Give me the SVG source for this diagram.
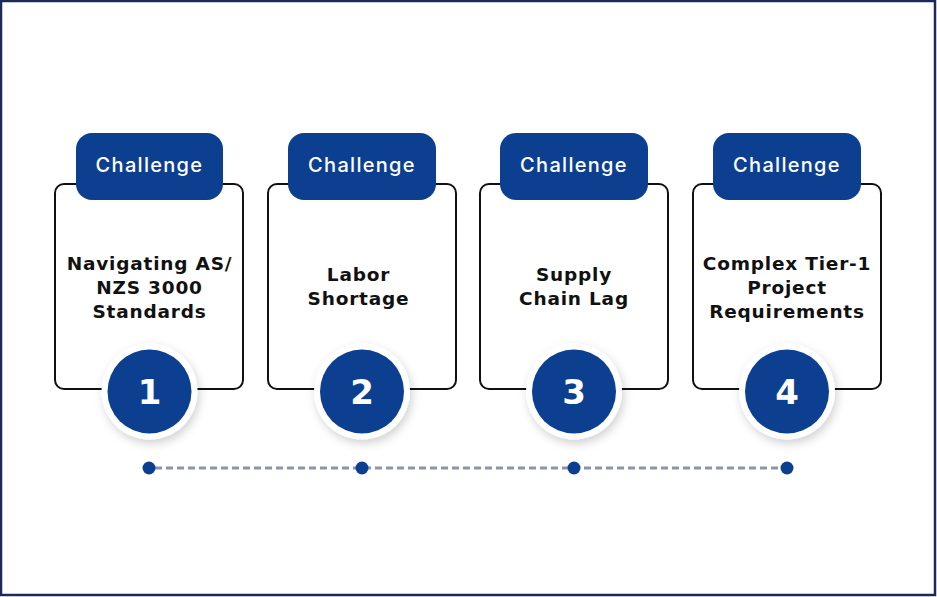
<svg xmlns="http://www.w3.org/2000/svg" width="937" height="597" viewBox="0 0 937 597">
<style>
.card{fill:#fff;stroke:#111;stroke-width:2}
.pill{fill:#0d3f91}
.ring{fill:#fff}
.num{fill:#0d3f91}
.ht{font-family:Inter,"Open Sans",sans-serif;font-size:20px;font-weight:500;fill:#fff;text-anchor:middle;letter-spacing:1.3px}
.bt{font-family:"DejaVu Sans",Inter,sans-serif;font-size:18.5px;font-weight:700;fill:#111;text-anchor:middle;letter-spacing:0.8px}
.nt{font-family:"DejaVu Sans",Inter,sans-serif;font-size:34px;font-weight:700;fill:#fff;text-anchor:middle}
.dot{fill:#0d3f91}
</style>
<defs>
<filter id="sh" x="-50%" y="-50%" width="200%" height="200%">
<feDropShadow dx="2" dy="4" stdDeviation="5" flood-color="#000" flood-opacity="0.18"/>
</filter>
</defs>
<rect x="1" y="1" width="934" height="594" fill="#fff" stroke="#1c2a5a" stroke-width="2.5"/>
<g id="connectors">
<line x1="155" y1="468" x2="781" y2="468" stroke="#8e92ab" stroke-width="3" stroke-dasharray="7 4"/>
<circle class="dot" cx="149" cy="468" r="6.5"/>
<circle class="dot" cx="362" cy="468" r="6.5"/>
<circle class="dot" cx="574" cy="468" r="6.5"/>
<circle class="dot" cx="787" cy="468" r="6.5"/>
</g>
<g id="node1">
<rect class="card" x="55" y="184" width="188" height="205" rx="9"/>
<rect class="pill" x="76" y="133" width="147" height="67" rx="16"/>
<text class="ht" x="149.5" y="172">Challenge</text>
<text class="bt" x="149.5" y="270">Navigating AS/</text>
<text class="bt" x="149.5" y="294">NZS 3000</text>
<text class="bt" x="149.5" y="318">Standards</text>
<circle class="ring" cx="149.5" cy="391.5" r="48" filter="url(#sh)"/>
<circle class="num" cx="149.5" cy="391.5" r="42"/>
<text class="nt" x="149.5" y="403.5">1</text>
</g>
<g id="node2">
<rect class="card" x="268" y="184" width="188" height="205" rx="9"/>
<rect class="pill" x="288" y="133" width="148" height="67" rx="16"/>
<text class="ht" x="362" y="172">Challenge</text>
<text class="bt" x="358.5" y="281">Labor</text>
<text class="bt" x="358.5" y="305">Shortage</text>
<circle class="ring" cx="362" cy="391.5" r="48" filter="url(#sh)"/>
<circle class="num" cx="362" cy="391.5" r="42"/>
<text class="nt" x="362" y="403.5">2</text>
</g>
<g id="node3">
<rect class="card" x="480" y="184" width="188" height="205" rx="9"/>
<rect class="pill" x="500" y="133" width="148" height="67" rx="16"/>
<text class="ht" x="574" y="172">Challenge</text>
<text class="bt" x="574" y="281">Supply</text>
<text class="bt" x="574" y="305">Chain Lag</text>
<circle class="ring" cx="574" cy="391.5" r="48" filter="url(#sh)"/>
<circle class="num" cx="574" cy="391.5" r="42"/>
<text class="nt" x="574" y="403.5">3</text>
</g>
<g id="node4">
<rect class="card" x="693" y="184" width="188" height="205" rx="9"/>
<rect class="pill" x="713" y="133" width="148" height="67" rx="16"/>
<text class="ht" x="787" y="172">Challenge</text>
<text class="bt" x="787" y="270">Complex Tier-1</text>
<text class="bt" x="787" y="294">Project</text>
<text class="bt" x="787" y="318">Requirements</text>
<circle class="ring" cx="787" cy="391.5" r="48" filter="url(#sh)"/>
<circle class="num" cx="787" cy="391.5" r="42"/>
<text class="nt" x="787" y="403.5">4</text>
</g>
</svg>
